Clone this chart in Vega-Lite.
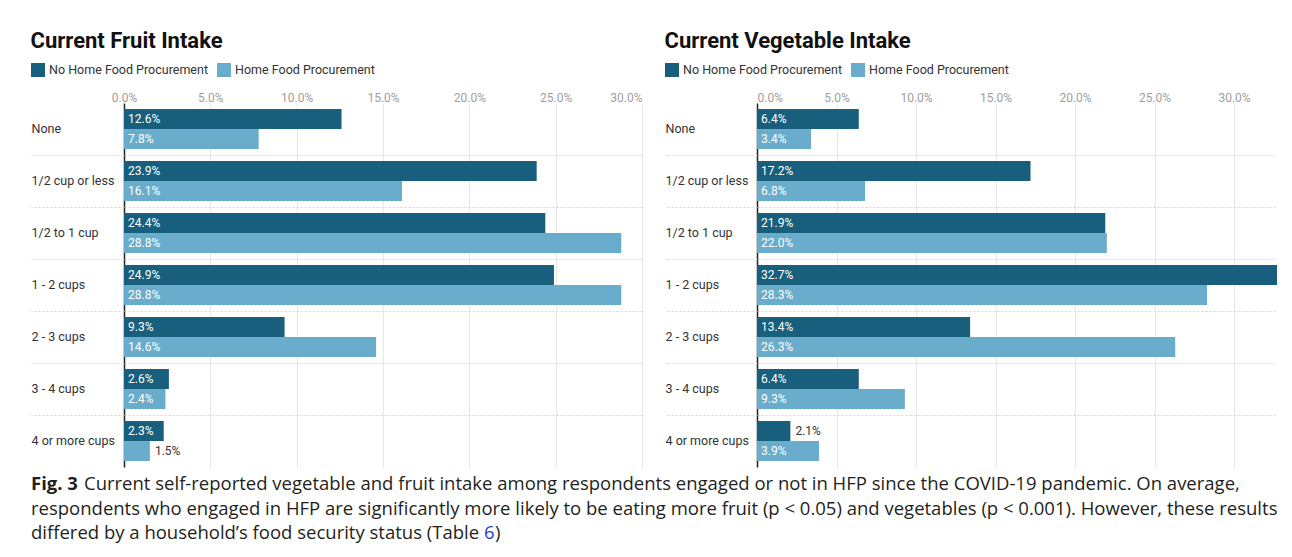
{
  "$schema": "https://vega.github.io/schema/vega-lite/v6.json",
  "padding": {"left": 30, "top": 30, "right": 5, "bottom": 0},
  "background": "white",
  "config": {"font": "Roboto", "view": {"stroke": null}},
  "datasets": {
    "fruit": [
      {"cat": "None", "grp": "No Home Food Procurement", "v": 0.126},
      {"cat": "None", "grp": "Home Food Procurement", "v": 0.078},
      {"cat": "1/2 cup or less", "grp": "No Home Food Procurement", "v": 0.239},
      {"cat": "1/2 cup or less", "grp": "Home Food Procurement", "v": 0.161},
      {"cat": "1/2 to 1 cup", "grp": "No Home Food Procurement", "v": 0.244},
      {"cat": "1/2 to 1 cup", "grp": "Home Food Procurement", "v": 0.288},
      {"cat": "1 - 2 cups", "grp": "No Home Food Procurement", "v": 0.249},
      {"cat": "1 - 2 cups", "grp": "Home Food Procurement", "v": 0.288},
      {"cat": "2 - 3 cups", "grp": "No Home Food Procurement", "v": 0.093},
      {"cat": "2 - 3 cups", "grp": "Home Food Procurement", "v": 0.146},
      {"cat": "3 - 4 cups", "grp": "No Home Food Procurement", "v": 0.026},
      {"cat": "3 - 4 cups", "grp": "Home Food Procurement", "v": 0.024},
      {"cat": "4 or more cups", "grp": "No Home Food Procurement", "v": 0.023},
      {"cat": "4 or more cups", "grp": "Home Food Procurement", "v": 0.015}
    ],
    "veg": [
      {"cat": "None", "grp": "No Home Food Procurement", "v": 0.064},
      {"cat": "None", "grp": "Home Food Procurement", "v": 0.034},
      {"cat": "1/2 cup or less", "grp": "No Home Food Procurement", "v": 0.172},
      {"cat": "1/2 cup or less", "grp": "Home Food Procurement", "v": 0.068},
      {"cat": "1/2 to 1 cup", "grp": "No Home Food Procurement", "v": 0.219},
      {"cat": "1/2 to 1 cup", "grp": "Home Food Procurement", "v": 0.220},
      {"cat": "1 - 2 cups", "grp": "No Home Food Procurement", "v": 0.327},
      {"cat": "1 - 2 cups", "grp": "Home Food Procurement", "v": 0.283},
      {"cat": "2 - 3 cups", "grp": "No Home Food Procurement", "v": 0.134},
      {"cat": "2 - 3 cups", "grp": "Home Food Procurement", "v": 0.263},
      {"cat": "3 - 4 cups", "grp": "No Home Food Procurement", "v": 0.064},
      {"cat": "3 - 4 cups", "grp": "Home Food Procurement", "v": 0.093},
      {"cat": "4 or more cups", "grp": "No Home Food Procurement", "v": 0.021},
      {"cat": "4 or more cups", "grp": "Home Food Procurement", "v": 0.039}
    ],
    "caption": [
      {"line": 1, "part": "fig", "text": "Fig. 3"},
      {"line": 1, "part": "body", "text": "Current self-reported vegetable and fruit intake among respondents engaged or not in HFP since the COVID-19 pandemic. On average,"},
      {"line": 2, "part": "plain", "text": "respondents who engaged in HFP are significantly more likely to be eating more fruit (p < 0.05) and vegetables (p < 0.001). However, these results"},
      {"line": 3, "part": "plain", "text": "differed by a household’s food security status (Table "},
      {"line": 3, "part": "link", "text": "6"},
      {"line": 3, "part": "close", "text": ")"}
    ]
  },
  "vconcat": [
    {
      "hconcat": [
        {
          "title": {"text": "Current Fruit Intake", "anchor": "start", "frame": "bounds", "fontSize": 22, "fontWeight": "bold", "color": "#111111", "font": "Roboto", "offset": 10},
          "width": 518,
          "height": 364,
          "data": {"name": "fruit"},
          "layer": [
            {
              "mark": {"type": "bar"},
              "encoding": {
                "y": {"field": "cat", "type": "nominal", "title": null,
                  "sort": ["None", "1/2 cup or less", "1/2 to 1 cup", "1 - 2 cups", "2 - 3 cups", "3 - 4 cups", "4 or more cups"],
                  "scale": {"paddingInner": 0, "paddingOuter": 0},
                  "axis": {"orient": "left", "ticks": false, "tickSize": 0, "domain": true, "domainColor": "#222222", "domainWidth": 1.5, "labelAlign": "left", "labelPadding": 93, "labelFontSize": 12.5, "labelColor": "#333333", "grid": false}},
                "yOffset": {"field": "grp", "type": "nominal", "sort": ["No Home Food Procurement", "Home Food Procurement"], "scale": {"paddingInner": 0, "paddingOuter": 0.3}},
                "x": {"field": "v", "type": "quantitative", "title": null,
                  "scale": {"domain": [0, 0.3], "nice": false},
                  "axis": {"orient": "top", "values": [0, 0.05, 0.1, 0.15, 0.2, 0.25, 0.3], "format": ".1%", "ticks": false, "domain": false, "grid": true, "gridColor": "#e6e6e6", "labelColor": "#9e9e9e", "labelFontSize": 12, "labelPadding": -1,
                    "labelAlign": {"condition": {"test": "datum.value >= 0.3", "value": "right"}, "value": "center"}}},
                "color": {"field": "grp", "type": "nominal",
                  "scale": {"domain": ["No Home Food Procurement", "Home Food Procurement"], "range": ["#175f7c", "#6aaccb"]},
                  "legend": {"orient": "none", "legendX": -93, "legendY": -40, "direction": "horizontal", "title": null, "symbolType": "square", "symbolSize": 196, "symbolStrokeWidth": 0, "symbolOpacity": 1, "labelFontSize": 12.5, "labelColor": "#333333", "columnPadding": 9, "labelOffset": 4, "padding": 0}}
              }
            },
            {
              "transform": [{"filter": "datum.v >= 0.022"}],
              "mark": {"type": "text", "align": "left", "baseline": "middle", "dx": 4, "color": "white", "fontSize": 12},
              "encoding": {
                "y": {"field": "cat", "type": "nominal", "sort": ["None", "1/2 cup or less", "1/2 to 1 cup", "1 - 2 cups", "2 - 3 cups", "3 - 4 cups", "4 or more cups"], "axis": null},
                "yOffset": {"field": "grp", "type": "nominal", "sort": ["No Home Food Procurement", "Home Food Procurement"]},
                "x": {"datum": 0, "type": "quantitative"},
                "text": {"field": "v", "type": "quantitative", "format": ".1%"}
              }
            },
            {
              "transform": [{"filter": "datum.v < 0.022"}],
              "mark": {"type": "text", "align": "left", "baseline": "middle", "dx": 5, "color": "#333333", "fontSize": 12},
              "encoding": {
                "y": {"field": "cat", "type": "nominal", "sort": ["None", "1/2 cup or less", "1/2 to 1 cup", "1 - 2 cups", "2 - 3 cups", "3 - 4 cups", "4 or more cups"],
                  "axis": {"orient": "left", "values": ["None", "1/2 cup or less", "1/2 to 1 cup", "1 - 2 cups", "2 - 3 cups", "3 - 4 cups"], "bandPosition": 1, "labels": false, "domain": false, "ticks": true, "tickSize": 93, "tickColor": "#d4d4d4", "tickDash": [2, 2], "grid": true, "gridColor": "#d4d4d4", "gridDash": [2, 2], "title": null}},
                "yOffset": {"field": "grp", "type": "nominal", "sort": ["No Home Food Procurement", "Home Food Procurement"]},
                "x": {"field": "v", "type": "quantitative"},
                "text": {"field": "v", "type": "quantitative", "format": ".1%"}
              }
            }
          ],
          "resolve": {"axis": {"y": "independent"}}
        },
        {
          "title": {"text": "Current Vegetable Intake", "anchor": "start", "frame": "bounds", "fontSize": 22, "fontWeight": "bold", "color": "#111111", "font": "Roboto", "offset": 10},
          "width": 520,
          "height": 364,
          "data": {"name": "veg"},
          "layer": [
            {
              "mark": {"type": "bar"},
              "encoding": {
                "y": {"field": "cat", "type": "nominal", "title": null,
                  "sort": ["None", "1/2 cup or less", "1/2 to 1 cup", "1 - 2 cups", "2 - 3 cups", "3 - 4 cups", "4 or more cups"],
                  "scale": {"paddingInner": 0, "paddingOuter": 0},
                  "axis": {"orient": "left", "ticks": false, "tickSize": 0, "domain": true, "domainColor": "#222222", "domainWidth": 1.5, "labelAlign": "left", "labelPadding": 92, "labelFontSize": 12.5, "labelColor": "#333333", "grid": false}},
                "yOffset": {"field": "grp", "type": "nominal", "sort": ["No Home Food Procurement", "Home Food Procurement"], "scale": {"paddingInner": 0, "paddingOuter": 0.3}},
                "x": {"field": "v", "type": "quantitative", "title": null,
                  "scale": {"domain": [0, 0.327], "nice": false},
                  "axis": {"orient": "top", "values": [0, 0.05, 0.1, 0.15, 0.2, 0.25, 0.3], "format": ".1%", "ticks": false, "domain": false, "grid": true, "gridColor": "#e6e6e6", "labelColor": "#9e9e9e", "labelFontSize": 12, "labelPadding": -1}},
                "color": {"field": "grp", "type": "nominal",
                  "scale": {"domain": ["No Home Food Procurement", "Home Food Procurement"], "range": ["#175f7c", "#6aaccb"]},
                  "legend": {"orient": "none", "legendX": -92, "legendY": -40, "direction": "horizontal", "title": null, "symbolType": "square", "symbolSize": 196, "symbolStrokeWidth": 0, "symbolOpacity": 1, "labelFontSize": 12.5, "labelColor": "#333333", "columnPadding": 9, "labelOffset": 4, "padding": 0}}
              }
            },
            {
              "transform": [{"filter": "datum.v >= 0.022"}],
              "mark": {"type": "text", "align": "left", "baseline": "middle", "dx": 4, "color": "white", "fontSize": 12},
              "encoding": {
                "y": {"field": "cat", "type": "nominal", "sort": ["None", "1/2 cup or less", "1/2 to 1 cup", "1 - 2 cups", "2 - 3 cups", "3 - 4 cups", "4 or more cups"], "axis": null},
                "yOffset": {"field": "grp", "type": "nominal", "sort": ["No Home Food Procurement", "Home Food Procurement"]},
                "x": {"datum": 0, "type": "quantitative"},
                "text": {"field": "v", "type": "quantitative", "format": ".1%"}
              }
            },
            {
              "transform": [{"filter": "datum.v < 0.022"}],
              "mark": {"type": "text", "align": "left", "baseline": "middle", "dx": 5, "color": "#333333", "fontSize": 12},
              "encoding": {
                "y": {"field": "cat", "type": "nominal", "sort": ["None", "1/2 cup or less", "1/2 to 1 cup", "1 - 2 cups", "2 - 3 cups", "3 - 4 cups", "4 or more cups"],
                  "axis": {"orient": "left", "values": ["None", "1/2 cup or less", "1/2 to 1 cup", "1 - 2 cups", "2 - 3 cups", "3 - 4 cups"], "bandPosition": 1, "labels": false, "domain": false, "ticks": true, "tickSize": 92, "tickColor": "#d4d4d4", "tickDash": [2, 2], "grid": true, "gridColor": "#d4d4d4", "gridDash": [2, 2], "title": null}},
                "yOffset": {"field": "grp", "type": "nominal", "sort": ["No Home Food Procurement", "Home Food Procurement"]},
                "x": {"field": "v", "type": "quantitative"},
                "text": {"field": "v", "type": "quantitative", "format": ".1%"}
              }
            }
          ],
          "resolve": {"axis": {"y": "independent"}}
        }
      ],
      "spacing": 22,
      "resolve": {"scale": {"color": "independent"}, "legend": {"color": "independent"}}
    },
    {
      "width": 1150,
      "height": 73,
      "data": {"name": "caption"},
      "encoding": {
        "y": {"field": "line", "type": "ordinal", "axis": null, "scale": {"paddingInner": 0, "paddingOuter": 0}},
        "x": {"datum": 0, "type": "quantitative", "scale": {"domain": [0, 1]}, "axis": null},
        "text": {"field": "text"}
      },
      "layer": [
        {"transform": [{"filter": "datum.part == 'fig'"}], "mark": {"type": "text", "align": "left", "baseline": "middle", "font": "Open Sans", "fontSize": 18.5, "fontWeight": "bold", "color": "#231f20", "dx": -93}},
        {"transform": [{"filter": "datum.part == 'body'"}], "mark": {"type": "text", "align": "left", "baseline": "middle", "font": "Open Sans", "fontSize": 18.5, "color": "#231f20", "dx": -40}},
        {"transform": [{"filter": "datum.part == 'plain'"}], "mark": {"type": "text", "align": "left", "baseline": "middle", "font": "Open Sans", "fontSize": 18.5, "color": "#231f20", "dx": -93}},
        {"transform": [{"filter": "datum.part == 'link'"}], "mark": {"type": "text", "align": "left", "baseline": "middle", "font": "Open Sans", "fontSize": 18.5, "color": "#1f3fd1", "dx": 360}},
        {"transform": [{"filter": "datum.part == 'close'"}], "mark": {"type": "text", "align": "left", "baseline": "middle", "font": "Open Sans", "fontSize": 18.5, "color": "#231f20", "dx": 371}}
      ]
    }
  ],
  "spacing": 5
}
